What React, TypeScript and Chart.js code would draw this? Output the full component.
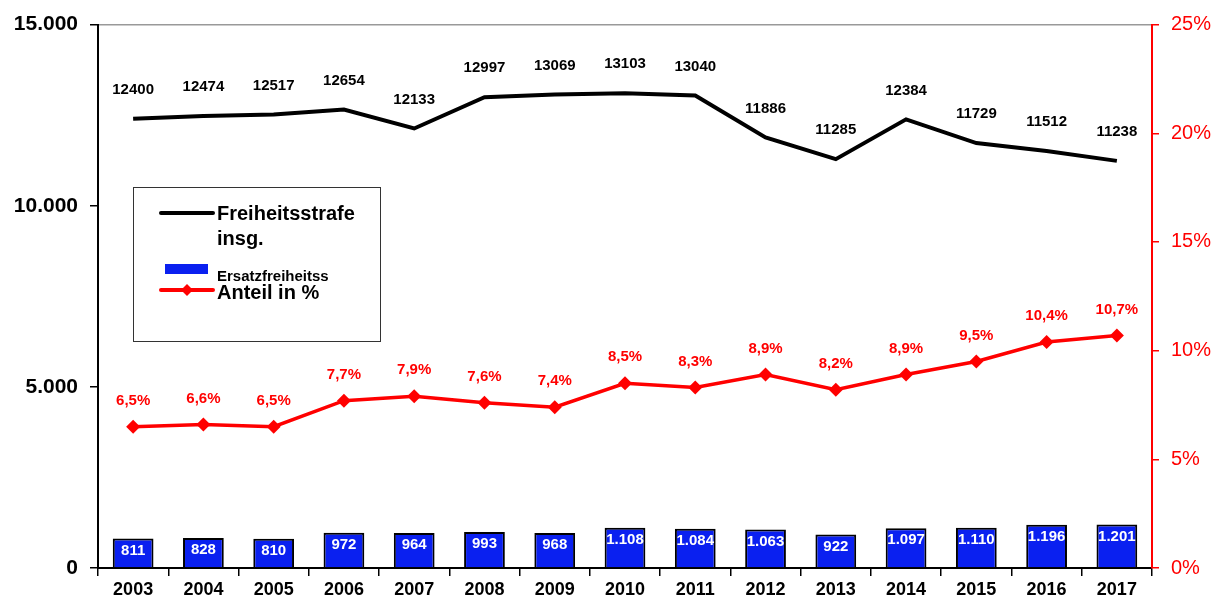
import React, { useEffect, useRef } from "react";
import { Chart, registerables } from "chart.js";

Chart.register(...registerables);

const years = ["2003","2004","2005","2006","2007","2008","2009","2010","2011","2012","2013","2014","2015","2016","2017"];
const total = [12400,12474,12517,12654,12133,12997,13069,13103,13040,11886,11285,12384,11729,11512,11238];
const ersatz = [811,828,810,972,964,993,968,1108,1084,1063,922,1097,1110,1196,1201];
const share = [6.5,6.6,6.5,7.7,7.9,7.6,7.4,8.5,8.3,8.9,8.2,8.9,9.5,10.4,10.7];
const leftTicks = [0, 5000, 10000, 15000];
const rightTicks = [0, 5, 10, 15, 20, 25];

const fmtThousand = (v: number) => v.toString().replace(/\B(?=(\d{3})+(?!\d))/g, ".");
const fmtPct = (v: number) => v.toFixed(1).replace(".", ",") + "%";

const FONT = "'Liberation Sans', Arial, sans-serif";

const labelPlugin = {
  id: "labels",
  afterDatasetsDraw(chart: any) {
    const ctx = chart.ctx;
    ctx.save();
    ctx.textAlign = "center";
    ctx.textBaseline = "middle";
    const mb = chart.getDatasetMeta(0);
    ctx.font = `bold 15px ${FONT}`;
    ctx.fillStyle = "#ffffff";
    mb.data.forEach((el: any, i: number) => {
      ctx.fillText(fmtThousand(ersatz[i]), el.x, el.y + 12);
    });
    const ml = chart.getDatasetMeta(1);
    ctx.font = `bold 15px ${FONT}`;
    ctx.fillStyle = "#000000";
    ml.data.forEach((el: any, i: number) => {
      ctx.fillText(String(total[i]), el.x, el.y - 29);
    });
    const mp = chart.getDatasetMeta(2);
    ctx.font = `bold 15px ${FONT}`;
    ctx.fillStyle = "#ff0000";
    mp.data.forEach((el: any, i: number) => {
      ctx.fillText(fmtPct(share[i]), el.x, el.y - 26);
    });
    ctx.restore();
  },
  afterDraw(chart: any) {
    const ctx = chart.ctx;
    ctx.save();
    const x = 133, y = 187, w = 247, h = 154;
    ctx.fillStyle = "#ffffff";
    ctx.fillRect(x, y, w, h);
    ctx.strokeStyle = "#333333";
    ctx.lineWidth = 1;
    ctx.strokeRect(x + 0.5, y + 0.5, w, h);
    ctx.strokeStyle = "#000";
    ctx.lineWidth = 4;
    ctx.lineCap = "round";
    ctx.beginPath();
    ctx.moveTo(161, 213);
    ctx.lineTo(213, 213);
    ctx.stroke();
    ctx.fillStyle = "#000";
    ctx.textAlign = "left";
    ctx.textBaseline = "middle";
    ctx.font = `bold 20px ${FONT}`;
    ctx.fillText("Freiheitsstrafe", 217, 214);
    ctx.fillText("insg.", 217, 239);
    ctx.fillStyle = "#0a20f0";
    ctx.fillRect(165, 264, 43, 10);
    ctx.fillStyle = "#000";
    ctx.font = `bold 15px ${FONT}`;
    ctx.fillText("Ersatzfreiheitss", 217, 277);
    ctx.strokeStyle = "#ff0000";
    ctx.lineWidth = 4;
    ctx.beginPath();
    ctx.moveTo(161, 290);
    ctx.lineTo(213, 290);
    ctx.stroke();
    ctx.fillStyle = "#ff0000";
    ctx.beginPath();
    ctx.moveTo(187, 284);
    ctx.lineTo(193, 290);
    ctx.lineTo(187, 296);
    ctx.lineTo(181, 290);
    ctx.closePath();
    ctx.fill();
    ctx.fillStyle = "#000";
    ctx.font = `bold 20px ${FONT}`;
    ctx.fillText("Anteil in %", 217, 293);
    ctx.restore();
  },
};

export default function App() {
  const ref = useRef<HTMLCanvasElement>(null);
  useEffect(() => {
    if (!ref.current) return;
    const chart = new Chart(ref.current, {
      type: "bar",
      data: {
        labels: years,
        datasets: [
          {
            type: "bar",
            label: "Ersatzfreiheitss",
            data: ersatz,
            backgroundColor: "#0a20f0",
            borderColor: "#000000",
            borderWidth: 2,
            barPercentage: 0.58,
            categoryPercentage: 1,
            yAxisID: "y",
            order: 3,
          },
          {
            type: "line",
            label: "Freiheitsstrafe insg.",
            data: total,
            borderColor: "#000000",
            borderWidth: 4,
            pointRadius: 0,
            pointHoverRadius: 0,
            tension: 0,
            yAxisID: "y",
            order: 2,
          },
          {
            type: "line",
            label: "Anteil in %",
            data: share,
            borderColor: "#ff0000",
            backgroundColor: "#ff0000",
            borderWidth: 3.5,
            pointStyle: "rectRot",
            pointRadius: 7,
            pointBorderWidth: 0,
            pointBackgroundColor: "#ff0000",
            tension: 0,
            yAxisID: "y1",
            order: 1,
          },
        ] as any,
      },
      options: {
        animation: false,
        responsive: true,
        maintainAspectRatio: false,
        layout: { padding: { top: 22, left: 0, right: 0, bottom: 0 } },
        plugins: { legend: { display: false }, tooltip: { enabled: false } },
        scales: {
          x: {
            offset: true,
            grid: { offset: true, drawOnChartArea: false, tickLength: 8, color: "#000", lineWidth: 1.5 },
            border: { color: "#000", width: 2 },
            ticks: { color: "#000", font: { family: FONT, size: 18, weight: "bold" }, padding: 3 },
            afterFit: (s: any) => { s.height = 32; },
          },
          y: {
            position: "left",
            min: 0,
            max: 15000,
            afterBuildTicks: (s: any) => { s.ticks = leftTicks.map((v) => ({ value: v })); },
            grid: {
              drawOnChartArea: true,
              color: (c: any) => (c.tick && c.tick.value === 15000 ? "#999999" : "rgba(0,0,0,0)"),
              tickColor: "#000",
              tickLength: 8,
              lineWidth: 1.5,
            },
            border: { color: "#000", width: 2 },
            ticks: {
              color: "#000",
              font: { family: FONT, size: 21, weight: "bold" },
              padding: 12,
              callback: (v: any) => fmtThousand(Number(v)),
            },
            afterFit: (s: any) => { s.width = 98; },
          },
          y1: {
            position: "right",
            min: 0,
            max: 25,
            afterBuildTicks: (s: any) => { s.ticks = rightTicks.map((v) => ({ value: v })); },
            grid: { drawOnChartArea: false, color: "#ff0000", tickLength: 7, lineWidth: 1.5 },
            border: { color: "#ff0000", width: 2 },
            ticks: {
              color: "#ff0000",
              font: { family: FONT, size: 20 },
              padding: 12,
              callback: (v: any) => v + "%",
            },
            afterFit: (s: any) => { s.width = 70; },
          },
        },
      } as any,
      plugins: [labelPlugin],
    });
    return () => chart.destroy();
  }, []);
  return (
    <div style={{ position: "absolute", left: 0, top: 0, width: 1222, height: 600, background: "#fff" }}>
      <canvas ref={ref} />
    </div>
  );
}
